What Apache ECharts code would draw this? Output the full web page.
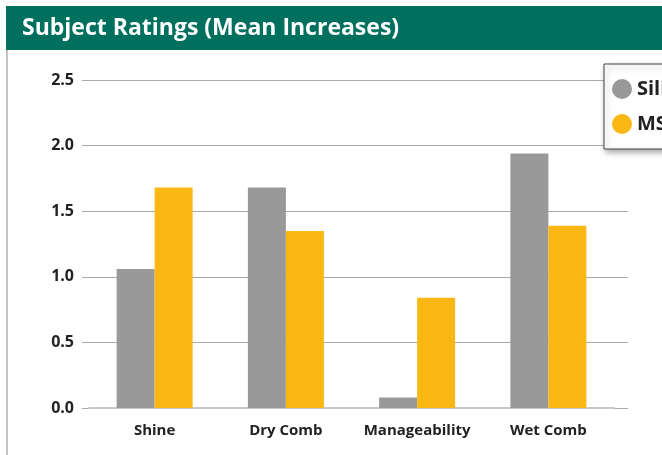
<!DOCTYPE html>
<html>
<head>
<meta charset="utf-8">
<script src="https://cdn.jsdelivr.net/npm/echarts@6/dist/echarts.min.js"></script>
<style>
  html, body { margin: 0; padding: 0; background: #fff; }
  #chart { width: 662px; height: 455px; }
</style>
</head>
<body>
<div id="chart"></div>
<script>
// categories and the two series
var categories = ["Shine", "Dry Comb", "Manageability", "Wet Comb"];
var siValues = [1.06, 1.68, 0.08, 1.94];
var msValues = [1.68, 1.35, 0.84, 1.39];
var seriesNames = ["Silicone", "MS Blend"];
var yTicks = { min: 0, max: 2.5, interval: 0.5 };

var font = "Open Sans";
var myChart = echarts.init(document.getElementById("chart"));
myChart.setOption({
  animation: false,
  textStyle: { fontFamily: font },
  graphic: [
    { type: "rect", shape: { x: 6, y: 6, width: 656, height: 44 }, style: { fill: "#00705E" }, z: 0 },
    { type: "line", shape: { x1: 7, y1: 50, x2: 7, y2: 455 }, style: { stroke: "#888", lineWidth: 1 } },
    {
      type: "text", left: 22, top: 17,
      style: { text: "Subject Ratings (Mean Increases)", fill: "#fff", font: "bold 23px 'Open Sans'" }
    }
  ],
  legend: {
    data: seriesNames,
    orient: "vertical",
    left: 604,
    top: 64,
    padding: [15, 12, 15, 8],
    itemGap: 15,
    icon: "circle",
    itemWidth: 20,
    itemHeight: 20,
    backgroundColor: "#fff",
    borderColor: "#444",
    borderWidth: 1,
    borderRadius: 0,
    shadowColor: "rgba(0,0,0,0.35)",
    shadowBlur: 6,
    shadowOffsetX: 2,
    shadowOffsetY: 3,
    textStyle: { fontSize: 20, fontWeight: "bold", color: "#222", fontFamily: font }
  },
  grid: [
    { left: 82, right: 34, top: 80, bottom: 47 },
    { left: 89, right: 48, top: 80, bottom: 47 }
  ],
  xAxis: [
    {
      type: "category", gridIndex: 0, data: categories, show: false
    },
    {
      type: "category", gridIndex: 1, data: categories,
      axisLine: { lineStyle: { color: "#c8c8c8", width: 2 } },
      axisTick: { show: false },
      axisLabel: { interval: 0, color: "#222", fontSize: 15, fontWeight: "bold", margin: 15, fontFamily: font }
    }
  ],
  yAxis: [
    {
      type: "value", gridIndex: 0,
      min: yTicks.min, max: yTicks.max, interval: yTicks.interval,
      axisLine: { show: false },
      axisTick: { show: false },
      axisLabel: {
        color: "#222", fontSize: 16, fontWeight: "bold", margin: 8, fontFamily: font,
        formatter: function (v) { return v.toFixed(1); }
      },
      splitLine: { lineStyle: { color: "#aaa", width: 1 } }
    },
    {
      type: "value", gridIndex: 1,
      min: yTicks.min, max: yTicks.max, interval: yTicks.interval,
      show: false, splitLine: { show: false }
    }
  ],
  series: [
    {
      name: seriesNames[0], type: "bar", xAxisIndex: 1, yAxisIndex: 1,
      data: siValues, barWidth: 38, barGap: "0%",
      itemStyle: { color: "#999999" }
    },
    {
      name: seriesNames[1], type: "bar", xAxisIndex: 1, yAxisIndex: 1,
      data: msValues, barWidth: 38, barGap: "0%",
      itemStyle: { color: "#FBB714" }
    }
  ]
});
</script>
</body>
</html>
